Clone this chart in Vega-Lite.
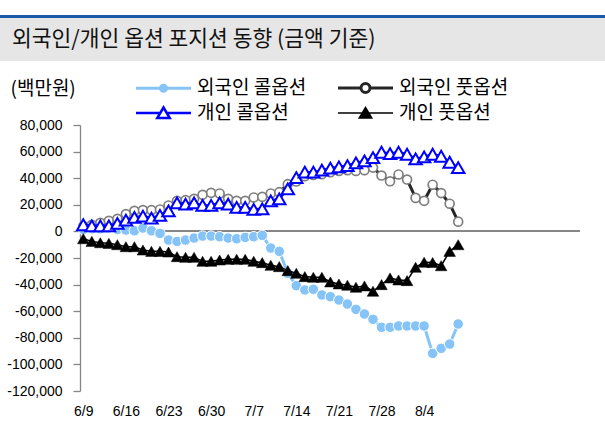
{
  "$schema": "https://vega.github.io/schema/vega-lite/v6.json",
  "padding": {"left": 0, "top": 15, "right": 0, "bottom": 0},
  "autosize": {"type": "pad"},
  "background": "white",
  "config": {"view": {"stroke": null}},
  "bounds": "flush",
  "spacing": 0,
  "resolve": {"scale": {"color": "independent"}, "legend": {"color": "independent"}},
  "vconcat": [
    {"width": 605, "height": 3, "view": {"fill": "#1c5aa6", "stroke": null}, "data": {"values": []}, "mark": "point"},
    {"width": 605, "height": 43, "view": {"fill": "#e6e6e6", "stroke": null}, "data": {"values": []}, "mark": "point"},
    {
      "width": 605, "height": 64, "data": {"values": []}, "mark": "point",
      "title": {"text": "외국인/개인 옵션 포지션 동향 (금액 기준)", "anchor": "start", "frame": "group", "orient": "top", "offset": 0, "baseline": "middle", "dx": 12, "font": "Noto Sans CJK KR", "fontSize": 21.5, "fontWeight": "normal", "color": "#111111"}
    },
    {
      "bounds": "flush",
      "spacing": 0,
      "resolve": {"scale": {"color": "independent"}, "legend": {"color": "independent"}},
      "hconcat": [
        {"width": 80, "height": 1, "data": {"values": []}, "mark": "point"},
        {
          "width": 500,
          "height": 266,
          "data": {"values": [
{"date":"6/9","series":"외국인 콜옵션","value":1500},{"date":"6/10","series":"외국인 콜옵션","value":2000},{"date":"6/11","series":"외국인 콜옵션","value":2000},{"date":"6/12","series":"외국인 콜옵션","value":2500},{"date":"6/13","series":"외국인 콜옵션","value":1500},
{"date":"6/16","series":"외국인 콜옵션","value":1000},{"date":"6/17","series":"외국인 콜옵션","value":500},{"date":"6/18","series":"외국인 콜옵션","value":2500},{"date":"6/19","series":"외국인 콜옵션","value":500},{"date":"6/20","series":"외국인 콜옵션","value":-1500},
{"date":"6/23","series":"외국인 콜옵션","value":-6500},{"date":"6/24","series":"외국인 콜옵션","value":-7500},{"date":"6/25","series":"외국인 콜옵션","value":-6500},{"date":"6/26","series":"외국인 콜옵션","value":-5000},{"date":"6/27","series":"외국인 콜옵션","value":-3500},
{"date":"6/30","series":"외국인 콜옵션","value":-3500},{"date":"7/1","series":"외국인 콜옵션","value":-4000},{"date":"7/2","series":"외국인 콜옵션","value":-5000},{"date":"7/3","series":"외국인 콜옵션","value":-5500},{"date":"7/4","series":"외국인 콜옵션","value":-4500},
{"date":"7/7","series":"외국인 콜옵션","value":-4000},{"date":"7/8","series":"외국인 콜옵션","value":-3000},{"date":"7/9","series":"외국인 콜옵션","value":-12500},{"date":"7/10","series":"외국인 콜옵션","value":-15000},{"date":"7/11","series":"외국인 콜옵션","value":-31500},
{"date":"7/14","series":"외국인 콜옵션","value":-40800},{"date":"7/15","series":"외국인 콜옵션","value":-44000},{"date":"7/16","series":"외국인 콜옵션","value":-43500},{"date":"7/17","series":"외국인 콜옵션","value":-47800},{"date":"7/18","series":"외국인 콜옵션","value":-49100},
{"date":"7/21","series":"외국인 콜옵션","value":-51600},{"date":"7/22","series":"외국인 콜옵션","value":-54600},{"date":"7/23","series":"외국인 콜옵션","value":-58600},{"date":"7/24","series":"외국인 콜옵션","value":-62100},{"date":"7/25","series":"외국인 콜옵션","value":-66100},
{"date":"7/28","series":"외국인 콜옵션","value":-72100},{"date":"7/29","series":"외국인 콜옵션","value":-72100},{"date":"7/30","series":"외국인 콜옵션","value":-71100},{"date":"7/31","series":"외국인 콜옵션","value":-71100},{"date":"8/1","series":"외국인 콜옵션","value":-71100},
{"date":"8/4","series":"외국인 콜옵션","value":-71100},{"date":"8/5","series":"외국인 콜옵션","value":-91700},{"date":"8/6","series":"외국인 콜옵션","value":-87900},{"date":"8/7","series":"외국인 콜옵션","value":-84700},{"date":"8/8","series":"외국인 콜옵션","value":-69600},
{"date":"6/9","series":"외국인 풋옵션","value":4000},{"date":"6/10","series":"외국인 풋옵션","value":5000},{"date":"6/11","series":"외국인 풋옵션","value":6500},{"date":"6/12","series":"외국인 풋옵션","value":8000},{"date":"6/13","series":"외국인 풋옵션","value":9500},
{"date":"6/16","series":"외국인 풋옵션","value":13000},{"date":"6/17","series":"외국인 풋옵션","value":15500},{"date":"6/18","series":"외국인 풋옵션","value":16000},{"date":"6/19","series":"외국인 풋옵션","value":16000},{"date":"6/20","series":"외국인 풋옵션","value":16500},
{"date":"6/23","series":"외국인 풋옵션","value":19500},{"date":"6/24","series":"외국인 풋옵션","value":23000},{"date":"6/25","series":"외국인 풋옵션","value":23500},{"date":"6/26","series":"외국인 풋옵션","value":24500},{"date":"6/27","series":"외국인 풋옵션","value":27500},
{"date":"6/30","series":"외국인 풋옵션","value":29000},{"date":"7/1","series":"외국인 풋옵션","value":28500},{"date":"7/2","series":"외국인 풋옵션","value":24500},{"date":"7/3","series":"외국인 풋옵션","value":23000},{"date":"7/4","series":"외국인 풋옵션","value":23000},
{"date":"7/7","series":"외국인 풋옵션","value":25500},{"date":"7/8","series":"외국인 풋옵션","value":26000},{"date":"7/9","series":"외국인 풋옵션","value":28500},{"date":"7/10","series":"외국인 풋옵션","value":29500},{"date":"7/11","series":"외국인 풋옵션","value":35500},
{"date":"7/14","series":"외국인 풋옵션","value":37500},{"date":"7/15","series":"외국인 풋옵션","value":41500},{"date":"7/16","series":"외국인 풋옵션","value":42500},{"date":"7/17","series":"외국인 풋옵션","value":43000},{"date":"7/18","series":"외국인 풋옵션","value":44500},
{"date":"7/21","series":"외국인 풋옵션","value":45500},{"date":"7/22","series":"외국인 풋옵션","value":46000},{"date":"7/23","series":"외국인 풋옵션","value":45500},{"date":"7/24","series":"외국인 풋옵션","value":46000},{"date":"7/25","series":"외국인 풋옵션","value":48000},
{"date":"7/28","series":"외국인 풋옵션","value":42000},{"date":"7/29","series":"외국인 풋옵션","value":37700},{"date":"7/30","series":"외국인 풋옵션","value":42800},{"date":"7/31","series":"외국인 풋옵션","value":39000},{"date":"8/1","series":"외국인 풋옵션","value":25200},
{"date":"8/4","series":"외국인 풋옵션","value":23000},{"date":"8/5","series":"외국인 풋옵션","value":35100},{"date":"8/6","series":"외국인 풋옵션","value":28800},{"date":"8/7","series":"외국인 풋옵션","value":20800},{"date":"8/8","series":"외국인 풋옵션","value":7300},
{"date":"6/9","series":"개인 콜옵션","value":5000},{"date":"6/10","series":"개인 콜옵션","value":4200},{"date":"6/11","series":"개인 콜옵션","value":4200},{"date":"6/12","series":"개인 콜옵션","value":4200},{"date":"6/13","series":"개인 콜옵션","value":6000},
{"date":"6/16","series":"개인 콜옵션","value":8500},{"date":"6/17","series":"개인 콜옵션","value":10500},{"date":"6/18","series":"개인 콜옵션","value":11500},{"date":"6/19","series":"개인 콜옵션","value":10000},{"date":"6/20","series":"개인 콜옵션","value":12000},
{"date":"6/23","series":"개인 콜옵션","value":15500},{"date":"6/24","series":"개인 콜옵션","value":21500},{"date":"6/25","series":"개인 콜옵션","value":20500},{"date":"6/26","series":"개인 콜옵션","value":21500},{"date":"6/27","series":"개인 콜옵션","value":19500},
{"date":"6/30","series":"개인 콜옵션","value":19500},{"date":"7/1","series":"개인 콜옵션","value":21500},{"date":"7/2","series":"개인 콜옵션","value":20500},{"date":"7/3","series":"개인 콜옵션","value":18000},{"date":"7/4","series":"개인 콜옵션","value":18000},
{"date":"7/7","series":"개인 콜옵션","value":16500},{"date":"7/8","series":"개인 콜옵션","value":17000},{"date":"7/9","series":"개인 콜옵션","value":23000},{"date":"7/10","series":"개인 콜옵션","value":24500},{"date":"7/11","series":"개인 콜옵션","value":32000},
{"date":"7/14","series":"개인 콜옵션","value":40500},{"date":"7/15","series":"개인 콜옵션","value":44500},{"date":"7/16","series":"개인 콜옵션","value":44500},{"date":"7/17","series":"개인 콜옵션","value":46000},{"date":"7/18","series":"개인 콜옵션","value":47500},
{"date":"7/21","series":"개인 콜옵션","value":48500},{"date":"7/22","series":"개인 콜옵션","value":49500},{"date":"7/23","series":"개인 콜옵션","value":51500},{"date":"7/24","series":"개인 콜옵션","value":53000},{"date":"7/25","series":"개인 콜옵션","value":55500},
{"date":"7/28","series":"개인 콜옵션","value":59500},{"date":"7/29","series":"개인 콜옵션","value":58500},{"date":"7/30","series":"개인 콜옵션","value":59500},{"date":"7/31","series":"개인 콜옵션","value":58000},{"date":"8/1","series":"개인 콜옵션","value":54500},
{"date":"8/4","series":"개인 콜옵션","value":56000},{"date":"8/5","series":"개인 콜옵션","value":58000},{"date":"8/6","series":"개인 콜옵션","value":56500},{"date":"8/7","series":"개인 콜옵션","value":52000},{"date":"8/8","series":"개인 콜옵션","value":48000},
{"date":"6/9","series":"개인 풋옵션","value":-5500},{"date":"6/10","series":"개인 풋옵션","value":-7500},{"date":"6/11","series":"개인 풋옵션","value":-8500},{"date":"6/12","series":"개인 풋옵션","value":-9000},{"date":"6/13","series":"개인 풋옵션","value":-10000},
{"date":"6/16","series":"개인 풋옵션","value":-11500},{"date":"6/17","series":"개인 풋옵션","value":-11500},{"date":"6/18","series":"개인 풋옵션","value":-14000},{"date":"6/19","series":"개인 풋옵션","value":-15000},{"date":"6/20","series":"개인 풋옵션","value":-15000},
{"date":"6/23","series":"개인 풋옵션","value":-15500},{"date":"6/24","series":"개인 풋옵션","value":-19000},{"date":"6/25","series":"개인 풋옵션","value":-19500},{"date":"6/26","series":"개인 풋옵션","value":-19500},{"date":"6/27","series":"개인 풋옵션","value":-22500},
{"date":"6/30","series":"개인 풋옵션","value":-22500},{"date":"7/1","series":"개인 풋옵션","value":-21500},{"date":"7/2","series":"개인 풋옵션","value":-21000},{"date":"7/3","series":"개인 풋옵션","value":-21000},{"date":"7/4","series":"개인 풋옵션","value":-21000},
{"date":"7/7","series":"개인 풋옵션","value":-22500},{"date":"7/8","series":"개인 풋옵션","value":-23500},{"date":"7/9","series":"개인 풋옵션","value":-25500},{"date":"7/10","series":"개인 풋옵션","value":-26500},{"date":"7/11","series":"개인 풋옵션","value":-29500},
{"date":"7/14","series":"개인 풋옵션","value":-31500},{"date":"7/15","series":"개인 풋옵션","value":-34000},{"date":"7/16","series":"개인 풋옵션","value":-34500},{"date":"7/17","series":"개인 풋옵션","value":-34500},{"date":"7/18","series":"개인 풋옵션","value":-38000},
{"date":"7/21","series":"개인 풋옵션","value":-39500},{"date":"7/22","series":"개인 풋옵션","value":-40500},{"date":"7/23","series":"개인 풋옵션","value":-42000},{"date":"7/24","series":"개인 풋옵션","value":-41000},{"date":"7/25","series":"개인 풋옵션","value":-45000},
{"date":"7/28","series":"개인 풋옵션","value":-40000},{"date":"7/29","series":"개인 풋옵션","value":-35000},{"date":"7/30","series":"개인 풋옵션","value":-36500},{"date":"7/31","series":"개인 풋옵션","value":-37000},{"date":"8/1","series":"개인 풋옵션","value":-27000},
{"date":"8/4","series":"개인 풋옵션","value":-23200},{"date":"8/5","series":"개인 풋옵션","value":-23400},{"date":"8/6","series":"개인 풋옵션","value":-25800},{"date":"8/7","series":"개인 풋옵션","value":-15000},{"date":"8/8","series":"개인 풋옵션","value":-10000}
          ]},
          "layer": [
            {
              "mark": {"type": "rule", "color": "#868686", "strokeWidth": 1.3},
              "encoding": {"y": {"datum": 0, "type": "quantitative",
                "scale": {"domain": [-120000, 80000], "nice": false},
                "axis": {"title": "(백만원)", "titleAngle": 0, "titleAlign": "left", "titleBaseline": "middle", "titleX": -70, "titleY": -37, "titleFont": "Noto Sans CJK KR", "titleFontSize": 19, "titleFontWeight": "normal", "titleColor": "#000000",
                    "values": [-120000, -100000, -80000, -60000, -40000, -20000, 0, 20000, 40000, 60000, 80000], "labelExpr": "replace(format(datum.value, ','), '−', '-')",
                    "labelFont": "Liberation Sans", "labelFontSize": 14, "labelColor": "#000000", "labelPadding": 11, "tickSize": 7, "tickColor": "#868686", "tickWidth": 1.3, "domainColor": "#868686", "domainWidth": 1.3, "grid": false}}}
            },
            {
              "encoding": {
                "x": {
                  "field": "date", "type": "ordinal",
                  "scale": {"type": "point", "domain": ["6/9","6/10","6/11","6/12","6/13","6/16","6/17","6/18","6/19","6/20","6/23","6/24","6/25","6/26","6/27","6/30","7/1","7/2","7/3","7/4","7/7","7/8","7/9","7/10","7/11","7/14","7/15","7/16","7/17","7/18","7/21","7/22","7/23","7/24","7/25","7/28","7/29","7/30","7/31","8/1","8/4","8/5","8/6","8/7","8/8"], "padding": 0, "range": [3.3, 378.2]},
                  "axis": {"title": null, "values": ["6/9","6/16","6/23","6/30","7/7","7/14","7/21","7/28","8/4"], "domain": false, "ticks": false, "grid": false, "labelAngle": 0, "labelFont": "Liberation Sans", "labelFontSize": 14, "labelColor": "#000000", "labelPadding": 13}
                },
                "y": {
                  "field": "value", "type": "quantitative",
                  "scale": {"domain": [-120000, 80000], "nice": false},
                  "axis": {"title": "(백만원)", "titleAngle": 0, "titleAlign": "left", "titleBaseline": "middle", "titleX": -70, "titleY": -37, "titleFont": "Noto Sans CJK KR", "titleFontSize": 19, "titleFontWeight": "normal", "titleColor": "#000000",
                    "values": [-120000, -100000, -80000, -60000, -40000, -20000, 0, 20000, 40000, 60000, 80000], "labelExpr": "replace(format(datum.value, ','), '−', '-')",
                    "labelFont": "Liberation Sans", "labelFontSize": 14, "labelColor": "#000000", "labelPadding": 11, "tickSize": 7, "tickColor": "#868686", "tickWidth": 1.3, "domainColor": "#868686", "domainWidth": 1.3, "grid": false}
                }
              },
              "layer": [
                {
                  "transform": [{"filter": {"field": "series", "equal": "외국인 콜옵션"}}],
                  "mark": {"type": "line", "strokeWidth": 3},
                  "encoding": {"color": {"field": "series", "type": "nominal",
                    "scale": {"domain": ["외국인 콜옵션", "외국인 풋옵션", "개인 콜옵션", "개인 풋옵션"], "range": ["#86C3F7", "#262626", "#0000FF", "#000000"]},
                    "legend": {"orient": "none", "legendX": 74, "legendY": -46.5, "columns": 2, "title": null, "direction": "horizontal",
                      "labelFont": "Noto Sans CJK KR", "labelFontSize": 19, "labelColor": "#000000", "labelOffset": 24, "symbolSize": 100, "columnPadding": 25, "rowPadding": 4,
                      "symbolType": "M-5.5,0H5.5",
                      "encode": {"symbols": {"update": {
                        "shape": {"signal": "datum.value === '외국인 콜옵션' ? 'M-5.5,0H5.5M-0.6,0A0.6,0.6,0,1,1,0.6,0A0.6,0.6,0,1,1,-0.6,0Z' : datum.value === '외국인 풋옵션' ? 'M-5.5,0H-0.9M0.9,0H5.5M-0.9,0A0.9,0.9,0,1,1,0.9,0A0.9,0.9,0,1,1,-0.9,0Z' : datum.value === '개인 콜옵션' ? 'M-5.5,0H-0.75M0.75,0H5.5M0,-1.1L1.25,1L-1.25,1Z' : 'M-5.5,0H5.5M0,-1.1L1.25,1L-1.25,1Z'"},
                        "fill": {"signal": "datum.value === '외국인 콜옵션' ? '#86C3F7' : datum.value === '개인 풋옵션' ? '#000000' : '#ffffff'"},
                        "stroke": {"signal": "datum.value === '외국인 콜옵션' ? '#86C3F7' : datum.value === '외국인 풋옵션' ? '#262626' : datum.value === '개인 콜옵션' ? '#0000FF' : '#000000'"},
                        "strokeWidth": {"signal": "datum.value === '개인 풋옵션' ? 1.5 : datum.value === '개인 콜옵션' ? 2.5 : 3"},
                        "opacity": {"value": 1}
                      }}}
                    }}}
                },
                {
                  "transform": [{"filter": {"field": "series", "equal": "외국인 콜옵션"}}],
                  "mark": {"type": "point", "shape": "circle", "filled": true, "size": 110, "fill": "#86C3F7", "stroke": "#ffffff", "strokeWidth": 1, "opacity": 1}
                },
                {
                  "transform": [{"filter": {"field": "series", "equal": "외국인 풋옵션"}}],
                  "mark": {"type": "line", "strokeWidth": 3},
                  "encoding": {"color": {"field": "series", "type": "nominal"}}
                },
                {
                  "transform": [{"filter": {"field": "series", "equal": "외국인 풋옵션"}}],
                  "mark": {"type": "point", "shape": "circle", "filled": true, "size": 80, "fill": "#ffffff", "stroke": "#7f7f7f", "strokeWidth": 1.7, "opacity": 1}
                },
                {
                  "transform": [{"filter": {"field": "series", "equal": "개인 콜옵션"}}],
                  "mark": {"type": "line", "strokeWidth": 2.5},
                  "encoding": {"color": {"field": "series", "type": "nominal"}}
                },
                {
                  "transform": [{"filter": {"field": "series", "equal": "개인 콜옵션"}}],
                  "mark": {"type": "point", "shape": "triangle-up", "filled": true, "size": 155, "fill": "#ffffff", "stroke": "#0000FF", "strokeWidth": 2, "opacity": 1}
                },
                {
                  "transform": [{"filter": {"field": "series", "equal": "개인 풋옵션"}}],
                  "mark": {"type": "line", "strokeWidth": 1.5},
                  "encoding": {"color": {"field": "series", "type": "nominal"}}
                },
                {
                  "transform": [{"filter": {"field": "series", "equal": "개인 풋옵션"}}],
                  "mark": {"type": "point", "shape": "triangle-up", "filled": true, "size": 135, "fill": "#000000", "stroke": "#000000", "strokeWidth": 0.5, "opacity": 1}
                }
              ]
            }
          ]
        }
      ]
    }
  ]
}
